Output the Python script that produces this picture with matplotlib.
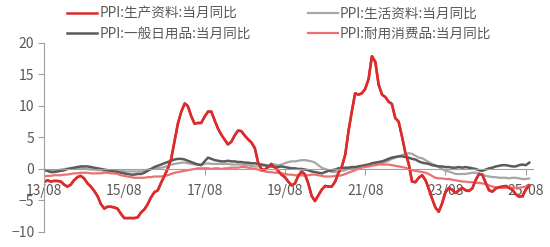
import numpy as np
import pandas as pd
import matplotlib
matplotlib.use('Agg')
import matplotlib.pyplot as plt
import matplotlib.dates as mdates

plt.rcParams['font.family'] = ['Noto Sans CJK SC', 'DejaVu Sans']

# monthly, 2013-08 .. 2025-09
dates = pd.date_range('2013-08-01', '2025-09-01', freq='MS')

# PPI:生产资料:当月同比
producer = [
    -2.1, -1.8, -2.0, -1.9, -1.9,
    -2.0, -2.5, -2.8, -2.5, -1.8, -1.3, -1.1, -1.5, -2.3, -2.8, -3.5, -4.3,
    -5.6, -6.3, -6.0, -6.0, -6.1, -6.3, -7.1, -7.8, -7.8, -7.8, -7.8, -7.7,
    -6.9, -6.4, -5.6, -4.5, -3.7, -3.4, -2.2, -1.1, 0.1, 1.6, 4.4, 7.2,
    9.1, 10.4, 10.0, 8.4, 7.2, 7.3, 7.3, 8.3, 9.1, 9.1, 7.7, 6.4,
    5.4, 4.6, 3.9, 4.3, 5.3, 6.1, 6.0, 5.3, 4.7, 4.2, 3.3, 1.0,
    -0.1, -0.1, 0.3, 0.8, 0.3, -0.3, -0.9, -1.3, -2.0, -2.6, -2.3, -1.1,
    -0.4, -0.9, -2.3, -4.3, -5.1, -4.2, -3.3, -2.7, -2.8, -2.8, -2.0, -0.6,
    0.4, 2.3, 5.9, 9.1, 12.0, 11.8, 12.0, 12.7, 14.3, 17.9, 17.0, 13.4,
    11.8, 11.4, 10.7, 10.3, 8.1, 7.5, 5.2, 2.6, 0.8, -2.0, -2.1, -1.4,
    -1.0, -1.8, -3.1, -4.7, -6.1, -6.8, -5.5, -3.7, -3.0, -3.3, -3.8, -3.4,
    -3.0, -3.4, -3.5, -3.1, -1.8, -0.8, -0.9, -2.2, -3.4, -3.6, -3.1, -2.9,
    -2.8, -2.7, -3.0, -3.3, -4.0, -4.4, -4.3, -3.3, -2.6,
]

# PPI:生活资料:当月同比
consumer = [
    -0.3, -0.2, -0.2, -0.3, -0.2,
    -0.1, 0.0, 0.0, 0.0, 0.1, 0.1, 0.1, 0.0, 0.0, -0.1, -0.1, -0.2,
    -0.2, -0.3, -0.3, -0.2, -0.2, -0.3, -0.3, -0.4, -0.4, -0.4, -0.4, -0.4,
    -0.4, -0.3, -0.1, 0.0, 0.0, 0.1, 0.2, 0.3, 0.5, 0.7, 0.8, 0.9,
    1.0, 1.0, 0.9, 0.8, 0.7, 0.7, 0.7, 0.8, 0.9, 0.8, 0.8, 0.8,
    0.8, 0.8, 0.8, 0.7, 0.7, 0.7, 0.7, 0.6, 0.6, 0.5, 0.4, 0.4,
    0.5, 0.6, 0.6, 0.7, 0.7, 0.6, 0.7, 0.9, 1.1, 1.2, 1.2, 1.3,
    1.4, 1.4, 1.3, 1.2, 1.0, 0.6, 0.2, 0.0, -0.2, -0.5, -0.5, -0.4,
    -0.3, -0.2, 0.0, 0.1, 0.1, 0.2, 0.4, 0.6, 0.7, 0.8, 0.9, 0.9,
    0.9, 1.1, 1.3, 1.6, 1.8, 2.0, 2.2, 2.4, 2.5, 2.4, 2.1, 1.8,
    1.7, 1.4, 1.1, 0.8, 0.6, 0.3, 0.0, -0.3, -0.4, -0.6, -0.8, -0.8,
    -0.8, -0.8, -0.7, -0.6, -0.6, -0.7, -0.9, -1.1, -1.2, -1.3, -1.3, -1.4,
    -1.4, -1.4, -1.5, -1.4, -1.4, -1.5, -1.6, -1.6, -1.5,
]

# PPI:一般日用品:当月同比
daily = [
    -0.1, -0.3, -0.5, -0.5, -0.4,
    -0.3, -0.2, 0.0, 0.1, 0.2, 0.3, 0.4, 0.4, 0.4, 0.3, 0.2, 0.1,
    0.0, -0.1, -0.2, -0.3, -0.4, -0.5, -0.6, -0.7, -0.8, -0.9, -0.9, -0.8,
    -0.8, -0.6, -0.3, 0.0, 0.3, 0.5, 0.7, 0.9, 1.1, 1.3, 1.5, 1.6,
    1.6, 1.5, 1.3, 1.1, 0.9, 0.7, 0.6, 1.2, 1.8, 1.6, 1.4, 1.3,
    1.2, 1.2, 1.3, 1.2, 1.2, 1.1, 1.1, 1.0, 1.0, 0.9, 0.9, 0.8,
    0.7, 0.6, 0.4, 0.4, 0.3, 0.3, 0.4, 0.3, 0.2, 0.1, 0.1, 0.0,
    0.0, -0.1, -0.2, -0.4, -0.5, -0.6, -0.7, -0.5, -0.3, -0.2, -0.1, 0.1,
    0.1, 0.2, 0.2, 0.3, 0.3, 0.4, 0.5, 0.6, 0.7, 0.9, 1.0, 1.1,
    1.2, 1.4, 1.6, 1.8, 1.9, 2.0, 2.0, 1.9, 1.8, 1.6, 1.5, 1.2,
    1.0, 0.9, 0.8, 0.6, 0.5, 0.4, 0.4, 0.3, 0.3, 0.2, 0.2, 0.3,
    0.2, 0.3, 0.2, 0.1, 0.0, -0.2, -0.3, -0.1, 0.1, 0.2, 0.4, 0.5,
    0.6, 0.6, 0.5, 0.4, 0.4, 0.6, 0.7, 0.6, 1.0,
]

# PPI:耐用消费品:当月同比
durable = [
    -1.2, -1.1, -1.1, -1.0, -1.0,
    -1.0, -0.9, -0.9, -0.8, -0.7, -0.7, -0.6, -0.6, -0.6, -0.7, -0.7, -0.7,
    -0.7, -0.6, -0.6, -0.7, -0.7, -0.8, -1.0, -1.1, -1.2, -1.3, -1.4, -1.4,
    -1.4, -1.4, -1.3, -1.3, -1.2, -1.2, -1.2, -1.1, -1.0, -0.8, -0.6, -0.5,
    -0.4, -0.3, -0.2, -0.1, 0.0, 0.1, 0.1, 0.1, 0.1, 0.0, 0.1, 0.1,
    0.0, 0.1, 0.1, 0.2, 0.2, 0.2, 0.3, 0.3, 0.2, 0.1, 0.0, -0.1,
    -0.3, -0.4, -0.5, -0.5, -0.6, -0.6, -0.7, -0.8, -0.9, -0.9, -1.0, -1.0,
    -1.0, -1.1, -1.0, -0.9, -0.9, -1.0, -1.1, -1.2, -1.2, -1.2, -1.1, -1.1,
    -1.0, -0.8, -0.6, -0.4, -0.2, 0.0, 0.2, 0.3, 0.4, 0.5, 0.6, 0.7,
    0.7, 0.7, 0.7, 0.6, 0.5, 0.4, 0.3, 0.2, 0.0, -0.2, -0.3, -0.4,
    -0.5, -0.6, -0.8, -1.1, -1.4, -1.5, -1.5, -1.6, -1.6, -1.7, -1.8, -1.9,
    -2.0, -2.0, -2.1, -2.1, -2.2, -2.2, -2.3, -2.4, -2.6, -2.8, -2.9, -3.0,
    -3.0, -3.0, -2.9, -3.0, -3.0, -3.0, -2.9, -2.8, -2.7,
]

tick_dates = pd.date_range('2013-08-01', '2025-08-01', freq='24MS')

fig = plt.figure(figsize=(5.5, 2.47), dpi=100)
ax = fig.add_axes([0.08, 0.061, 0.889, 0.765])

l1, = ax.plot(dates, producer, color='#DC2B2B', lw=1.8)
l3, = ax.plot(dates, consumer, color='#A6A6A6', lw=1.6)
l2, = ax.plot(dates, daily, color='#5A5A5A', lw=1.8)
l4, = ax.plot(dates, durable, color='#EE6F6F', lw=1.6)
ax.plot(dates, producer, color='#DC2B2B', lw=1.8)

ax.set_ylim(-10, 20)
ax.set_yticks([-10, -5, 0, 5, 10, 15, 20])
ax.set_xlim(pd.Timestamp('2013-08-01'), pd.Timestamp('2025-10-05'))
ax.set_xticks(tick_dates)
ax.xaxis.set_major_formatter(mdates.DateFormatter('%y/%m'))

for s in ['top', 'right']:
    ax.spines[s].set_visible(False)
ax.spines['bottom'].set_position(('data', 0))
ax.spines['bottom'].set_color('#A0A0A0')
ax.spines['left'].set_color('#A0A0A0')
ax.tick_params(axis='y', colors='#A0A0A0', labelcolor='#595959', labelsize=10,
               length=4, pad=3)
ax.tick_params(axis='x', colors='#A0A0A0', labelcolor='#595959', labelsize=10,
               length=4, pad=7)
ax.set_zorder(1)

fig.legend([l1, l2, l3, l4],
           ['PPI:生产资料:当月同比', 'PPI:一般日用品:当月同比',
            'PPI:生活资料:当月同比', 'PPI:耐用消费品:当月同比'],
           ncol=2, loc='upper left', bbox_to_anchor=(0.1, 1.023), frameon=False,
           fontsize=9.8, handlelength=2.2, handletextpad=0.15, columnspacing=4.2,
           labelspacing=0.45, labelcolor='#595959')

fig.savefig('out.png', dpi=100)
